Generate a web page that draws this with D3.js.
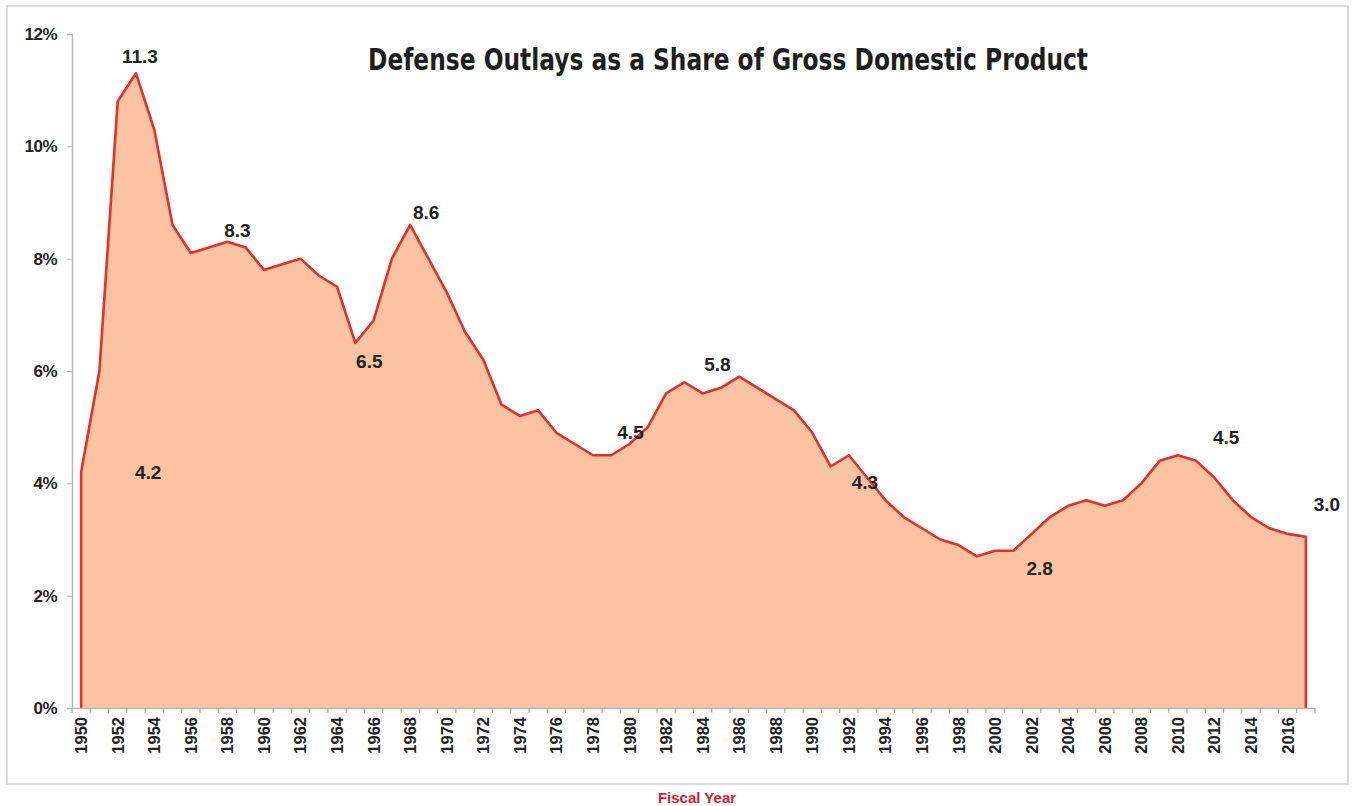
<!DOCTYPE html>
<html><head><meta charset="utf-8">
<script src="https://cdn.jsdelivr.net/npm/d3@7/dist/d3.min.js"></script>
<style>
body{margin:0;background:#fff;}
svg{display:block;font-family:"Liberation Sans",Arial,sans-serif;}
</style></head>
<body><svg id="c" width="1357" height="806"></svg>
<script>
const years = d3.range(1950, 2018);
const values = [4.2,6.0,10.8,11.3,10.3,8.6,8.1,8.2,8.3,8.2,7.8,7.9,8.0,7.7,7.5,6.5,6.9,8.0,8.6,8.0,
  7.4,6.7,6.2,5.4,5.2,5.3,4.9,4.7,4.5,4.5,4.7,5.0,5.6,5.8,5.6,5.7,5.9,5.7,5.5,5.3,
  4.9,4.3,4.5,4.1,3.7,3.4,3.2,3.0,2.9,2.7,2.8,2.8,3.1,3.4,3.6,3.7,3.6,3.7,4.0,4.4,
  4.5,4.4,4.1,3.7,3.4,3.2,3.1,3.05];
const yTicks = [0,2,4,6,8,10,12];
const callouts = [
  {year:1953,text:"11.3",dx:4,dy:-15},
  {year:1950,text:"4.2",dx:67,dy:2},
  {year:1958,text:"8.3",dx:10,dy:-10},
  {year:1968,text:"8.6",dx:16,dy:-11},
  {year:1965,text:"6.5",dx:14,dy:20},
  {year:1980,text:"4.5",dx:1,dy:-10},
  {year:1983,text:"5.8",dx:33,dy:-16},
  {year:1992,text:"4.3",dx:16,dy:29},
  {year:2002,text:"2.8",dx:8,dy:36},
  {year:2011,text:"4.5",dx:30,dy:-22},
  {year:2017,text:"3.0",dx:21,dy:-31}
];
const title = "Defense Outlays as a Share of Gross Domestic Product";
const xTitle = "Fiscal Year";

const svg = d3.select("#c");
svg.append("rect").attr("x",7).attr("y",6).attr("width",1341).attr("height",778)
  .attr("fill","none").attr("stroke","#cfcfcf").attr("stroke-width",1.5);

const x = d3.scaleBand().domain(years).range([72,1315]);
const y = d3.scaleLinear().domain([0,12]).range([708,34]);
const cx = d => x(d) + x.bandwidth()/2;

const data = years.map((yr,i)=>({yr, v: values[i]}));

const area = d3.area().x(d=>cx(d.yr)).y0(y(0)).y1(d=>y(d.v));
svg.append("path").datum(data).attr("d",area).attr("fill","#fbc3a2");
const pts = [{yr:years[0],v:0},...data,{yr:years[years.length-1],v:0}];
const line = d3.line().x(d=>cx(d.yr)).y(d=>y(d.v));
svg.append("path").datum(pts).attr("d",line).attr("fill","none")
  .attr("stroke","#e2312b").attr("stroke-width",2.6).attr("stroke-linejoin","round");

const yAxis = d3.axisLeft(y).tickValues(yTicks).tickFormat(d=>d+"%").tickSize(5).tickPadding(10);
const ga = svg.append("g").attr("transform","translate(72,0)").call(yAxis);
ga.attr("font-family",null).attr("font-size",null);
ga.select(".domain").attr("stroke","#b8b8b8").attr("stroke-width",1.5);
ga.selectAll(".tick line").attr("stroke","#b8b8b8");
ga.selectAll(".tick text").attr("font-size",17).attr("font-weight","bold").attr("fill","#222")
  .attr("letter-spacing","-0.5px");

const xAxis = d3.axisBottom(x).tickValues([]).tickSizeOuter(0);
const gx = svg.append("g").attr("transform","translate(0,708)").call(xAxis);
gx.attr("font-family",null).attr("font-size",null);
gx.select(".domain").attr("stroke","#b8b8b8").attr("stroke-width",1.5);
gx.selectAll("line.bt").data(d3.range(years.length+1)).join("line").attr("class","bt")
  .attr("x1",i=>72+i*x.step()).attr("x2",i=>72+i*x.step()).attr("y1",0).attr("y2",5)
  .attr("stroke","#999").attr("stroke-width",1);
gx.selectAll("text.xl").data(years.filter(d=>d%2===0)).join("text").attr("class","xl")
  .attr("transform",d=>`translate(${cx(d)+6},9) rotate(-90)`)
  .attr("text-anchor","end").attr("font-size",16.5).attr("font-weight","bold").attr("fill","#222")
  .text(d=>d);

svg.selectAll("text.co").data(callouts).join("text").attr("class","co")
  .attr("x",d=>cx(d.year)+d.dx).attr("y",d=>y(values[d.year-1950])+d.dy)
  .attr("text-anchor","middle").attr("dominant-baseline","middle")
  .attr("font-size",19).attr("font-weight","bold").attr("fill","#222").text(d=>d.text);

svg.append("text").attr("x",728).attr("y",70).attr("text-anchor","middle")
  .attr("font-family","'Liberation Sans Narrow','DejaVu Sans Condensed',sans-serif")
  .attr("font-size",30).attr("font-weight","bold").attr("fill","#1e1e1e")
  .attr("textLength",720).attr("lengthAdjust","spacingAndGlyphs").text(title);

svg.append("text").attr("x",697).attr("y",803).attr("text-anchor","middle")
  .attr("font-size",15).attr("font-weight","bold").attr("fill","#d1202e").text(xTitle);
</script></body></html>
